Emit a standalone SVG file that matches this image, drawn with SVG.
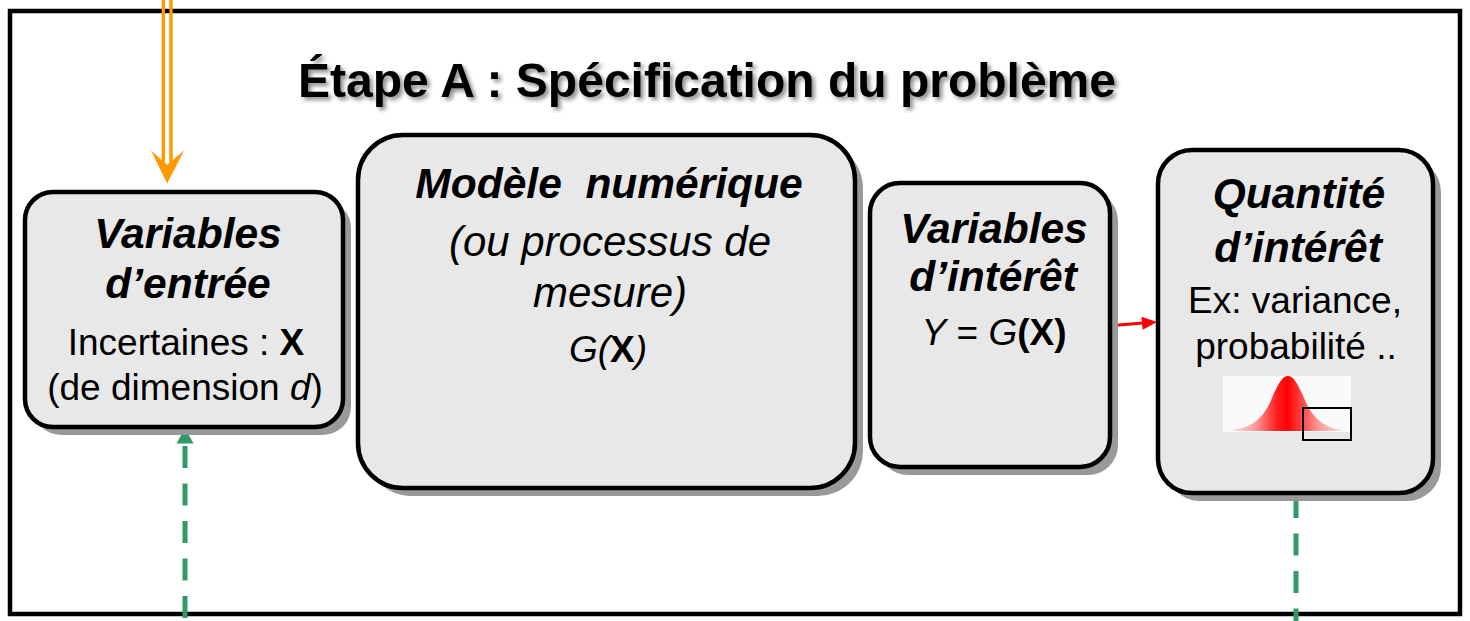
<svg xmlns="http://www.w3.org/2000/svg" width="1470" height="621" viewBox="0 0 1470 621">
<defs>
<style>
.frame{fill:#fff;stroke:#000;stroke-width:4.5}
.box{fill:#E8E8E8;stroke:#000;stroke-width:4.5}
.shadow{fill:#999}
text{font-family:"Liberation Sans",Arial,sans-serif;fill:#000;text-anchor:middle}
.hd{font-size:42.5px;font-weight:bold;font-style:italic}
.tx{font-size:37px}
.big{font-size:42px}
.it{font-style:italic}
.b{font-weight:bold}
.title{font-size:48px;font-weight:bold}
.green{stroke:#339966;stroke-width:5;stroke-dasharray:22 15.5;fill:none}
</style>
<filter id="ts" x="-5%" y="-30%" width="110%" height="160%">
<feDropShadow dx="3" dy="3" stdDeviation="2" flood-color="#000" flood-opacity="0.45"/>
</filter>
<linearGradient id="bell" gradientUnits="userSpaceOnUse" x1="1223" y1="0" x2="1351" y2="0">
<stop offset="0" stop-color="#FFF0F0"/>
<stop offset="0.25" stop-color="#FF9A9A"/>
<stop offset="0.42" stop-color="#FF2020"/>
<stop offset="0.5" stop-color="#FF0000"/>
<stop offset="0.58" stop-color="#FF3030"/>
<stop offset="0.75" stop-color="#FF9A9A"/>
<stop offset="1" stop-color="#FFF0F0"/>
</linearGradient>
</defs>

<rect class="frame" x="10" y="11" width="1450" height="603"/>

<text class="title" x="707" y="97" filter="url(#ts)">Étape A : Spécification du problème</text>

<g id="connectors">
<line x1="163.3" y1="0" x2="163.3" y2="166" stroke="#FF9900" stroke-width="3.4"/>
<line x1="171" y1="0" x2="171" y2="166" stroke="#FF9900" stroke-width="3.4"/>
<polygon points="151,150.5 167.2,183.5 184,150.5 167.2,165" fill="#FF9900"/>
<line class="green" x1="185" y1="446" x2="185" y2="625"/>
<polygon points="185,428 176.5,443.5 193.5,443.5" fill="#339966"/>
<line class="green" x1="1296" y1="496" x2="1296" y2="625"/>
<line x1="1113" y1="325.5" x2="1143" y2="323.1" stroke="#FF0000" stroke-width="3"/>
<polygon points="1157,322 1141.5,316.7 1142.6,329.7" fill="#FF0000"/>
</g>

<g id="node-entree">
<rect class="shadow" x="33" y="200" width="318" height="235" rx="28"/>
<rect class="box" x="25" y="192" width="318" height="235" rx="28"/>
<text class="hd" x="188" y="248">Variables</text>
<text class="hd" x="188" y="298">d’entrée</text>
<text class="tx" x="186" y="355">Incertaines : <tspan class="b">X</tspan></text>
<text class="tx" x="185" y="400">(de dimension <tspan class="it">d</tspan>)</text>
</g>

<g id="node-modele">
<rect class="shadow" x="366" y="143" width="497" height="353" rx="45"/>
<rect class="box" x="358" y="135" width="497" height="353" rx="45"/>
<text class="hd" x="609" y="198" xml:space="preserve">Modèle  numérique</text>
<text class="big it" x="610" y="256">(ou processus de</text>
<text class="big it" x="610" y="307">mesure)</text>
<text class="tx it" x="608" y="362">G(<tspan class="b" font-style="normal">X</tspan>)</text>
</g>

<g id="node-variables-interet">
<rect class="shadow" x="878" y="191" width="240" height="284" rx="30"/>
<rect class="box" x="870" y="183" width="240" height="284" rx="30"/>
<text class="hd" x="994" y="243">Variables</text>
<text class="hd" x="993" y="291">d’intérêt</text>
<text class="tx" x="994" y="345"><tspan class="it">Y</tspan> = <tspan class="it">G</tspan><tspan class="b">(X)</tspan></text>
</g>

<g id="node-quantite">
<rect class="shadow" x="1166" y="158" width="275" height="343" rx="34"/>
<rect class="box" x="1158" y="150" width="275" height="343" rx="34"/>
<text class="hd" x="1299" y="208">Quantité</text>
<text class="hd" x="1298" y="262">d’intérêt</text>
<text class="tx" x="1295" y="313">Ex: variance,</text>
<text class="tx" x="1296" y="359">probabilité ..</text>
<rect x="1223" y="376" width="128" height="56" fill="#FAFAFA"/>
<path d="M1223,431 C1250,430 1263,420 1272,398 C1280,379 1284,376 1288,376 C1292,376 1296,379 1304,398 C1313,420 1326,430 1351,431 Z" fill="url(#bell)"/>
<rect x="1303" y="408" width="48" height="32" fill="none" stroke="#000" stroke-width="2"/>
</g>
</svg>
